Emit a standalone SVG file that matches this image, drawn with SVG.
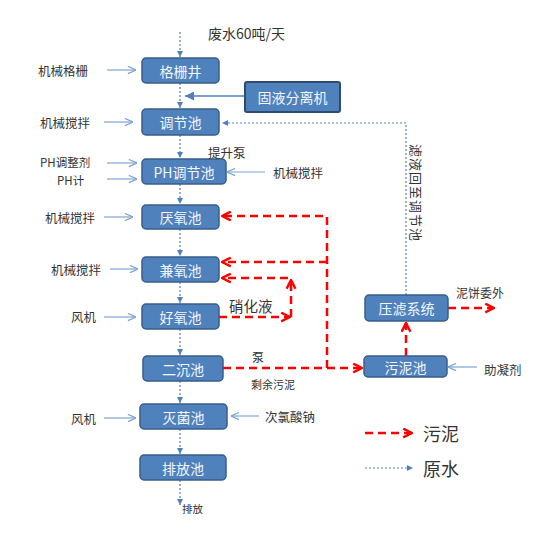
<svg xmlns="http://www.w3.org/2000/svg" width="558" height="542" viewBox="0 0 558 542">
<style>
.box{fill:#4F81BD;stroke:#385D8A;stroke-width:1.5}
.bt{font-family:"Noto Sans CJK SC","Liberation Sans",sans-serif;font-size:14px;fill:#F4F7FB;text-anchor:middle;dominant-baseline:central}
.lb{font-family:"Noto Sans CJK SC","Liberation Sans",sans-serif;font-size:12.5px;fill:#333;dominant-baseline:central}
.dot{fill:none;stroke:#4F81BD;stroke-width:1.2;stroke-dasharray:2 2}
.thin{fill:none;stroke:#7FA3D3;stroke-width:1.2}
.red{fill:none;stroke:#FF0000;stroke-width:2.5;stroke-dasharray:8 5}
</style>
<defs>
<marker id="tri" viewBox="0 0 10 10" refX="10" refY="5" markerWidth="6" markerHeight="6" markerUnits="userSpaceOnUse" orient="auto"><path d="M0,0L10,5L0,10z" fill="#4F81BD"/></marker>
<marker id="tri2" viewBox="0 0 10 10" refX="10" refY="5" markerWidth="9" markerHeight="9" markerUnits="userSpaceOnUse" orient="auto"><path d="M0,0L10,5L0,10z" fill="#4F81BD"/></marker>
<marker id="ov" viewBox="0 0 10 10" refX="10" refY="5" markerWidth="9" markerHeight="9" markerUnits="userSpaceOnUse" orient="auto"><path d="M1,1L10,5L1,9" fill="none" stroke="#7FA3D3" stroke-width="1.3"/></marker>
<marker id="rv" viewBox="0 0 10 10" refX="9" refY="5" markerWidth="11" markerHeight="11" markerUnits="userSpaceOnUse" orient="auto"><path d="M1,1L9,5L1,9" fill="none" stroke="#FF0000" stroke-width="2.2"/></marker>
</defs>

<g id="connectors">
<path class="dot" d="M180,32V57" marker-end="url(#tri)"/>
<path class="dot" d="M180,83V108" marker-end="url(#tri)"/>
<path class="dot" d="M180,135V158" marker-end="url(#tri)"/>
<path class="dot" d="M180,184V204" marker-end="url(#tri)"/>
<path class="dot" d="M180,229V256" marker-end="url(#tri)"/>
<path class="dot" d="M180,282V303" marker-end="url(#tri)"/>
<path class="dot" d="M180,329V355" marker-end="url(#tri)"/>
<path class="dot" d="M180,381V403" marker-end="url(#tri)"/>
<path class="dot" d="M180,429V454" marker-end="url(#tri)"/>
<path class="dot" d="M180,480V505" marker-end="url(#tri)"/>
<path class="dot" d="M406,295V123H222" marker-end="url(#tri)"/>
<path d="M245,96H185" stroke="#4F81BD" stroke-width="1.5" fill="none" marker-end="url(#tri2)"/>
<path class="thin" d="M107,70H136" marker-end="url(#ov)"/>
<path class="thin" d="M104,122H133" marker-end="url(#ov)"/>
<path class="thin" d="M107,163H137" marker-end="url(#ov)"/>
<path class="thin" d="M107,179H137" marker-end="url(#ov)"/>
<path class="thin" d="M265,172H227" marker-end="url(#ov)"/>
<path class="thin" d="M104,217H133" marker-end="url(#ov)"/>
<path class="thin" d="M110,269H138" marker-end="url(#ov)"/>
<path class="thin" d="M104,317H136" marker-end="url(#ov)"/>
<path class="thin" d="M104,418H136" marker-end="url(#ov)"/>
<path class="thin" d="M259,416H231" marker-end="url(#ov)"/>
<path class="thin" d="M477,367H448" marker-end="url(#ov)"/>
<path class="red" d="M223,368H327V216H222" marker-end="url(#rv)"/>
<path class="red" d="M327,262H222" marker-end="url(#rv)"/>
<path class="red" d="M327,368H362" marker-end="url(#rv)"/>
<path class="red" d="M219,317H290" marker-end="url(#rv)"/>
<path class="red" d="M291,317V280" marker-end="url(#rv)"/>
<path class="red" d="M288,278H222" marker-end="url(#rv)"/>
<path class="red" d="M406,356V323" marker-end="url(#rv)"/>
<path class="red" d="M448,308H494" marker-end="url(#rv)"/>
</g>

<g id="n-gezha"><rect class="box" x="142" y="58" width="77" height="25" rx="4"/><text class="bt" x="180.5" y="70.5">格栅井</text></g>
<g id="n-guye"><rect x="245" y="82" width="95" height="30" rx="2" fill="#4F81BD" stroke="#2E4A6E" stroke-width="2"/><text class="bt" x="292.5" y="97">固液分离机</text></g>
<g id="n-tiaojie"><rect class="box" x="142" y="109" width="77" height="26" rx="4"/><text class="bt" x="180.5" y="122">调节池</text></g>
<g id="n-ph"><rect class="box" x="142" y="159" width="84" height="25" rx="4"/><text class="bt" x="184" y="171.5">PH调节池</text></g>
<g id="n-yanyang"><rect class="box" x="142" y="205" width="77" height="24" rx="4"/><text class="bt" x="180.5" y="217">厌氧池</text></g>
<g id="n-jianyang"><rect class="box" x="142" y="257" width="77" height="25" rx="4"/><text class="bt" x="180.5" y="269.5">兼氧池</text></g>
<g id="n-haoyang"><rect class="box" x="142" y="304" width="77" height="25" rx="4"/><text class="bt" x="180.5" y="316.5">好氧池</text></g>
<g id="n-erchen"><rect class="box" x="143" y="356" width="80" height="25" rx="4"/><text class="bt" x="183" y="368.5">二沉池</text></g>
<g id="n-mijun"><rect class="box" x="140" y="404" width="87" height="25" rx="4"/><text class="bt" x="183.5" y="416.5">灭菌池</text></g>
<g id="n-paifang"><rect class="box" x="140" y="455" width="86" height="25" rx="4"/><text class="bt" x="183" y="467.5">排放池</text></g>
<g id="n-yalv"><rect class="box" x="365" y="295" width="83" height="26" rx="4"/><text class="bt" x="406.5" y="308">压滤系统</text></g>
<g id="n-wuni"><rect class="box" x="364" y="356" width="83" height="21" rx="4"/><text class="bt" x="405.5" y="366.5">污泥池</text></g>

<g id="labels">
<text class="lb" x="208" y="33" style="font-size:14px">废水60吨/天</text>
<text class="lb" x="38" y="70">机械格栅</text>
<text class="lb" x="40" y="122">机械搅拌</text>
<text class="lb" x="40" y="162" style="font-size:11.5px">PH调整剂</text>
<text class="lb" x="57" y="180" style="font-size:11.5px">PH计</text>
<text class="lb" x="208" y="152">提升泵</text>
<text class="lb" x="273" y="172">机械搅拌</text>
<text class="lb" x="45" y="217">机械搅拌</text>
<text class="lb" x="51" y="269">机械搅拌</text>
<text class="lb" x="71" y="316">风机</text>
<text class="lb" x="229" y="305" style="font-size:14.5px">硝化液</text>
<text class="lb" x="252" y="356" style="font-size:12px">泵</text>
<text class="lb" x="251" y="384" style="font-size:11px">剩余污泥</text>
<text class="lb" x="456" y="292" style="font-size:12px">泥饼委外</text>
<text class="lb" x="484" y="369">助凝剂</text>
<text class="lb" x="71" y="418">风机</text>
<text class="lb" x="265" y="416">次氯酸钠</text>
<text class="lb" x="182" y="508" style="font-size:10.5px">排放</text>
<text class="lb" transform="translate(416,193) rotate(90)" text-anchor="middle" style="font-size:13px;letter-spacing:1px">滤液回至调节池</text>
</g>

<g id="legend">
<path class="red" d="M365,433H412" marker-end="url(#rv)"/>
<text class="lb" x="423" y="433" style="font-size:18px">污泥</text>
<path class="dot" d="M365,468H413" marker-end="url(#tri)"/>
<text class="lb" x="423" y="468" style="font-size:18px">原水</text>
</g>
</svg>
